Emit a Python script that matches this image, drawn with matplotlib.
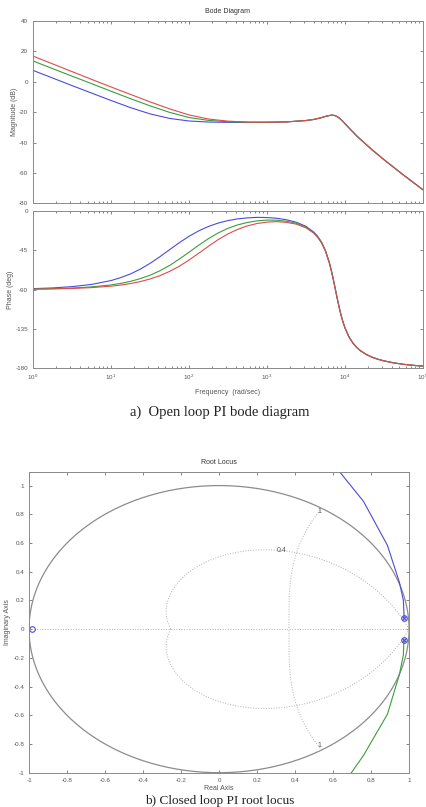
import numpy as np
import matplotlib.pyplot as plt

plt.rcParams['axes.unicode_minus'] = False
plt.rcParams['font.family'] = ['Liberation Sans', 'DejaVu Sans']

# bode data (log10 of frequency in rad/sec)
log_w_mag = [0, 0.25, 0.5, 0.75, 1.0, 1.25, 1.5, 1.75, 2.0, 2.25, 2.5, 2.75, 3.0, 3.25,
             3.5, 3.6, 3.7, 3.75, 3.8, 3.825, 3.85, 3.875, 3.9, 3.925, 3.95, 3.975, 4.0,
             4.05, 4.1, 4.15, 4.2, 4.35, 4.5, 4.75, 5.0]

# high frequency part is the same for all three gains
mag_tail = [-25.5, -24.8, -23.6, -22.8, -22.2, -22.0, -22.0, -22.3, -22.9, -23.75, -24.9,
            -26.1, -27.5, -30.2, -32.9, -35.5, -37.9, -44.8, -51.2, -61.3, -71.0]
mag_blue = [7.5, 2.5, -2.5, -7.4, -12.3, -17.0, -21.1, -24.1, -25.8, -26.5, -26.7, -26.8,
            -26.7, -26.4] + mag_tail
mag_green = [13.7, 8.7, 3.7, -1.2, -6.2, -11.1, -15.8, -20.1, -23.5, -25.4, -26.3, -26.6,
             -26.6, -26.4] + mag_tail
mag_red = [16.9, 11.8, 6.7, 1.6, -3.4, -8.3, -13.2, -17.8, -21.8, -24.5, -25.9, -26.5,
           -26.6, -26.4] + mag_tail

log_w_ph = [0, 0.25, 0.5, 0.75, 1.0, 1.125, 1.25, 1.375, 1.5, 1.625, 1.75, 1.875, 2.0,
            2.125, 2.25, 2.375, 2.5, 2.625, 2.75, 2.875, 3.0, 3.125, 3.25, 3.375, 3.5,
            3.6, 3.65, 3.7, 3.75, 3.8, 3.825, 3.85, 3.875, 3.9, 3.925, 3.95, 3.975, 4.0,
            4.05, 4.1, 4.15, 4.2, 4.275, 4.35, 4.425, 4.5, 4.625, 4.75, 4.875, 5.0]

ph_blue = [-89.0, -88.2, -86.7, -84.2, -79.8, -76.4, -72.2, -66.8, -60.2, -52.7, -44.6,
           -36.6, -29.3, -23.0, -18.0, -14.1, -11.3, -9.3, -8.2, -7.6, -7.8, -8.6, -10.3,
           -13.1, -17.8, -24.3, -29.1, -35.7, -45.2, -58.8, -67.5, -77.4, -88.2, -99.1,
           -109.5, -118.8, -126.6, -133.3, -143.5, -150.6, -155.8, -159.8, -164.1, -167.2,
           -169.6, -171.4, -173.7, -175.4, -176.5, -177.4]
ph_green = [-89.5, -89.1, -88.4, -87.0, -84.8, -83.0, -80.7, -77.6, -73.7, -68.7, -62.6,
            -55.3, -47.5, -39.4, -31.9, -25.4, -20.1, -16.2, -13.4, -11.6, -10.7, -10.8,
            -12.0, -14.3, -18.7, -25.0, -29.8, -36.3, -45.7, -59.3, -67.9, -77.9, -88.6,
            -99.5, -109.8, -119.1, -127.0, -133.6, -143.8, -150.9, -156.0, -160.0, -164.2,
            -167.4, -169.7, -171.5, -173.8, -175.4, -176.6, -177.5]
ph_red = [-89.6, -89.3, -88.8, -87.8, -86.2, -84.9, -83.2, -81.0, -78.0, -74.3, -69.4,
          -63.5, -56.4, -48.6, -40.6, -33.0, -26.5, -21.3, -17.3, -14.6, -13.0, -12.5,
          -13.3, -15.3, -19.5, -25.6, -30.3, -36.8, -46.1, -59.6, -68.3, -78.2, -88.9,
          -99.8, -110.1, -119.4, -127.2, -133.9, -144.0, -151.1, -156.2, -160.1, -164.4,
          -167.5, -169.8, -171.6, -173.8, -175.5, -176.6, -177.5]

# root locus branches
rl_blue_re = [0.974, 0.972, 0.97, 0.949, 0.886, 0.76, 0.62]
rl_blue_im = [0.078, 0.143, 0.20, 0.327, 0.584, 0.89, 1.12]
rl_green_re = [0.974, 0.972, 0.97, 0.949, 0.886, 0.76, 0.67]
rl_green_im = [-0.076, -0.11, -0.18, -0.317, -0.593, -0.88, -1.05]
poles_re = [0.974, 0.974]
poles_im = [0.078, -0.076]
zeros_re = [-0.983]
zeros_im = [0.0]
zeta = 0.4
wn = 1.0

c_blue = '#4b4bdc'
c_green = '#3a9e3a'
c_red = '#dc4c4c'
txt = '#555555'
spine = '#8a8a8a'


def style(ax):
    ax.tick_params(which='both', direction='in', top=True, right=True,
                   labelsize=4.5, colors=txt, width=0.5)
    ax.tick_params(which='major', length=2.5)
    ax.tick_params(which='minor', length=1.5)
    for s in ax.spines.values():
        s.set_color(spine)
        s.set_linewidth(0.7)


fig = plt.figure(figsize=(4.27, 8.07), dpi=100)

wm = np.power(10.0, log_w_mag)
wp = np.power(10.0, log_w_ph)

ax1 = fig.add_axes([0.0773, 0.748, 0.913, 0.226])
ax1.semilogx(wm, mag_blue, color=c_blue, lw=0.8)
ax1.semilogx(wm, mag_green, color=c_green, lw=0.8)
ax1.semilogx(wm, mag_red, color=c_red, lw=0.8)
ax1.set_xlim(1, 1e5)
ax1.set_ylim(-80, 40)
ax1.set_yticks([40, 20, 0, -20, -40, -60, -80])
ax1.set_xticklabels([])
ax1.set_xticklabels([], minor=True)
ax1.set_ylabel('Magnitude (dB)', fontsize=5, color=txt, labelpad=1)
ax1.set_title('Bode Diagram', fontsize=5, color='#333333', pad=6)
style(ax1)

ax2 = fig.add_axes([0.0773, 0.5436, 0.913, 0.1953])
ax2.semilogx(wp, ph_blue, color=c_blue, lw=0.8)
ax2.semilogx(wp, ph_green, color=c_green, lw=0.8)
ax2.semilogx(wp, ph_red, color=c_red, lw=0.8)
ax2.set_xlim(1, 1e5)
ax2.set_ylim(-180, 0)
ax2.set_yticks([0, -45, -90, -135, -180])
ax2.set_ylabel('Phase (deg)', fontsize=5, color=txt, labelpad=1)
ax2.set_xlabel('Frequency  (rad/sec)', fontsize=5, color=txt, labelpad=5)
style(ax2)

fig.text(0.515, 0.4895, 'a)  Open loop PI bode diagram', ha='center', va='center',
         fontsize=10.5, family='Liberation Serif', color='#222222')

# root locus
ax3 = fig.add_axes([0.068, 0.0425, 0.890, 0.3727])
t = np.linspace(0, 2 * np.pi, 400)
ax3.plot(np.cos(t), np.sin(t), color='#8c8c8c', lw=0.9)
ax3.plot([-1, 1], [0, 0], ':', color='#b0b0b0', lw=0.7)
# damping ratio curve
th = np.linspace(0, np.pi, 200)
r = np.exp(-zeta / np.sqrt(1 - zeta ** 2) * th)
ax3.plot(r * np.cos(th), r * np.sin(th), ':', color='#b0b0b0', lw=0.7)
ax3.plot(r * np.cos(th), -r * np.sin(th), ':', color='#b0b0b0', lw=0.7)
# natural frequency curve
zz = np.linspace(0, 1, 100)
rr = np.exp(-zz * wn)
ang = wn * np.sqrt(1 - zz ** 2)
ax3.plot(rr * np.cos(ang), rr * np.sin(ang), ':', color='#b0b0b0', lw=0.7)
ax3.plot(rr * np.cos(ang), -rr * np.sin(ang), ':', color='#b0b0b0', lw=0.7)
ax3.text(0.33, 0.545, '0.4', fontsize=5, color=txt, ha='center', va='center')
ax3.text(0.53, 0.82, '1', fontsize=5, color=txt, ha='center', va='center')
ax3.text(0.53, -0.81, '1', fontsize=5, color=txt, ha='center', va='center')

ax3.plot(rl_blue_re, rl_blue_im, color=c_blue, lw=0.8)
ax3.plot(rl_green_re, rl_green_im, color=c_green, lw=0.8)
ax3.plot(poles_re, poles_im, 'x', color=c_blue, ms=3.5, mew=0.8)
ax3.plot(poles_re, poles_im, 'o', color=c_blue, ms=4, mfc='none', mew=0.8)
ax3.plot(zeros_re, zeros_im, 'o', color=c_blue, ms=4, mfc='none', mew=0.8)

ax3.set_xlim(-1, 1)
ax3.set_ylim(-1, 1.095)
ticks = np.round(np.arange(-1, 1.01, 0.2), 1) + 0.0
labels = ['%g' % v if abs(v) > 1e-9 else '0' for v in ticks]
ax3.set_xticks(ticks)
ax3.set_xticklabels(labels)
ax3.set_yticks(ticks)
ax3.set_yticklabels(labels)
ax3.set_title('Root Locus', fontsize=5, color='#333333', pad=6)
ax3.set_xlabel('Real Axis', fontsize=5, color=txt, labelpad=1.5)
ax3.set_ylabel('Imaginary Axis', fontsize=5, color=txt, labelpad=2)
style(ax3)

fig.text(0.515, 0.0005, 'b) Closed loop PI root locus', ha='center', va='bottom',
         fontsize=9.5, family='Liberation Serif', color='#222222')

fig.savefig('out.png', dpi=100)
